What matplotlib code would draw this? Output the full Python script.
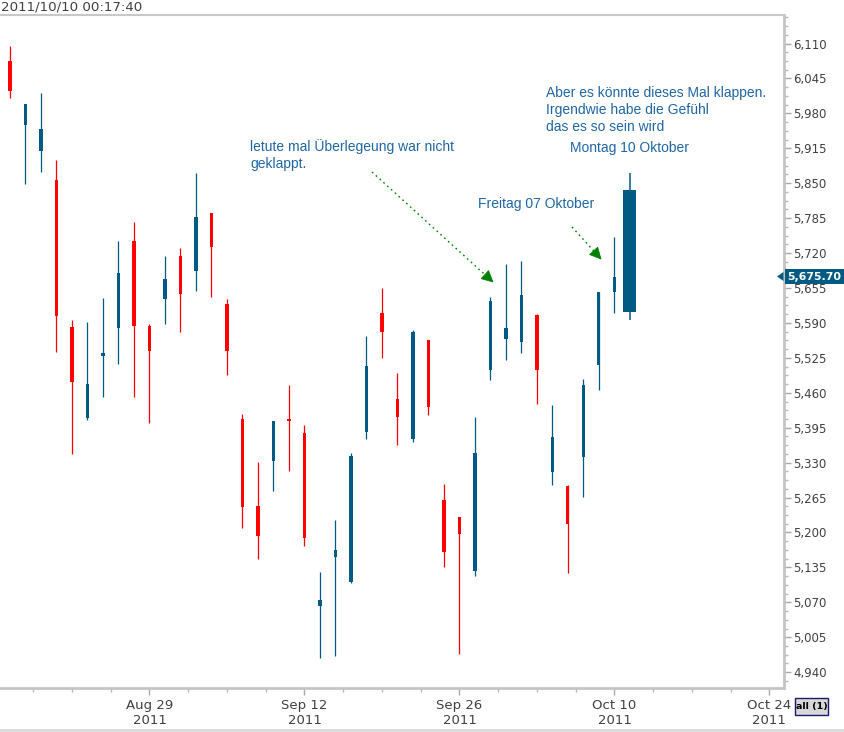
import math
import matplotlib
matplotlib.use('Agg')
import matplotlib.pyplot as plt
from matplotlib.ticker import MultipleLocator, FixedLocator, FuncFormatter
from matplotlib.patches import Rectangle, Polygon
from matplotlib.lines import Line2D

# ---------------- data ----------------
dates = ['2011-08-16', '2011-08-17', '2011-08-18', '2011-08-19', '2011-08-22', '2011-08-23',
         '2011-08-24', '2011-08-25', '2011-08-26', '2011-08-29', '2011-08-30', '2011-08-31',
         '2011-09-01', '2011-09-02', '2011-09-05', '2011-09-06', '2011-09-07', '2011-09-08',
         '2011-09-09', '2011-09-12', '2011-09-13', '2011-09-14', '2011-09-15', '2011-09-16',
         '2011-09-19', '2011-09-20', '2011-09-21', '2011-09-22', '2011-09-23', '2011-09-26',
         '2011-09-27', '2011-09-28', '2011-09-29', '2011-09-30', '2011-10-03', '2011-10-04',
         '2011-10-05', '2011-10-06', '2011-10-07', '2011-10-10', '2011-10-11']
opens = [6077, 5958, 5910, 5856, 5582, 5413, 5529, 5581, 5743, 5584, 5635, 5714, 5687, 5795,
         5625, 5411, 5249, 5333, 5411, 5385, 5063, 5155, 5107, 5387, 5608, 5448, 5374, 5558,
         5260, 5228, 5128, 5503, 5560, 5555, 5604, 5313, 5286, 5341, 5512, 5648, 5611]
highs = [6105, 5997, 6018, 5893, 5595, 5592, 5636, 5743, 5778, 5588, 5714, 5730, 5869, 5795,
         5634, 5420, 5331, 5407, 5474, 5400, 5126, 5223, 5348, 5565, 5655, 5497, 5577, 5558,
         5290, 5228, 5415, 5638, 5700, 5705, 5606, 5437, 5288, 5485, 5647, 5750, 5869]
lows = [6008, 5849, 5871, 5536, 5346, 5410, 5452, 5514, 5452, 5404, 5588, 5573, 5650, 5639,
        5493, 5209, 5151, 5277, 5315, 5175, 4966, 4970, 5106, 5374, 5525, 5363, 5369, 5419,
        5136, 4974, 5119, 5484, 5521, 5534, 5439, 5289, 5125, 5266, 5465, 5608, 5596]
closes = [6022, 5997, 5951, 5603, 5480, 5476, 5534, 5683, 5585, 5538, 5672, 5644, 5787, 5732,
          5538, 5247, 5194, 5407, 5407, 5190, 5074, 5167, 5342, 5510, 5573, 5415, 5573, 5434,
          5164, 5197, 5348, 5631, 5580, 5642, 5503, 5377, 5216, 5474, 5647, 5675.7, 5837]
last_price = 5675.70

tick_idx = [9, 19, 29, 39, 49]
tick_labels = ['Aug 29\n2011', 'Sep 12\n2011', 'Sep 26\n2011', 'Oct 10\n2011', 'Oct 24\n2011']
timestamp = '2011/10/10 00:17:40'

note1 = ['letute mal Überlegeung war nicht', 'geklappt.']
note2 = 'Freitag 07 Oktober'
note3 = ['Aber es könnte dieses Mal klappen.', 'Irgendwie habe die Gefühl', 'das es so sein wird']
note4 = 'Montag 10 Oktober'

UP = '#005a82'
DOWN = '#ff0000'
TXT = '#1f66a3'
GREEN = '#008000'

W, H = 844, 732
fig = plt.figure(figsize=(W / 100, H / 100), dpi=100)
fig.patch.set_facecolor('white')

def fx(px):
    return px / W

def fy(py):
    return 1 - py / H

ax = fig.add_axes([0, fy(688), fx(784), fy(14.5) - fy(688)])
ax.set_facecolor('white')

n = len(opens)
for i in range(n):
    o, h, l, c = opens[i], highs[i], lows[i], closes[i]
    col = UP if c >= o else DOWN
    last = (i == n - 1)
    bw = 0.84 if last else 0.2
    ax.vlines(i, l, h, color=col, lw=1.1 if last else 0.9, zorder=2)
    bot = min(o, c)
    ht = max(abs(c - o), 3.5)
    ax.bar(i, ht, bottom=bot, width=bw, color=col, edgecolor='none', zorder=3)

ax.set_xlim(-0.645, 49.94)
ax.set_ylim(4910.6, 6164)

# y axis on right
ax.yaxis.tick_right()
ax.yaxis.set_major_locator(MultipleLocator(65))
ax.yaxis.set_minor_locator(MultipleLocator(16.25))
ax.yaxis.set_major_formatter(FuncFormatter(lambda v, p: f'{v:,.0f}'))
ax.tick_params(axis='y', which='major', length=5, width=1, color='#a8a8a8',
               labelsize=8.5, labelcolor='#404040', pad=1.5)
ax.tick_params(axis='y', which='minor', length=3, width=1, color='#b8b8b8')

# x axis
ax.xaxis.set_major_locator(FixedLocator(tick_idx))
ax.set_xticklabels(tick_labels)
ax.xaxis.set_minor_locator(FixedLocator([1.5 + 2.5 * k for k in range(20)]))
ax.tick_params(axis='x', which='major', length=5, width=1, color='#a8a8a8',
               labelsize=9.5, labelcolor='#404040', pad=3)
ax.tick_params(axis='x', which='minor', length=3, width=1, color='#b8b8b8')

ax.spines['left'].set_visible(False)
ax.spines['right'].set_color('#c4c4c4')
ax.spines['right'].set_linewidth(2)
ax.spines['bottom'].set_color('#c4c4c4')
ax.spines['bottom'].set_linewidth(2)
ax.spines['top'].set_color('#c8c8c8')
ax.spines['top'].set_linewidth(1.5)

# timestamp
fig.text(fx(1), fy(6.5), timestamp, fontsize=9.6, color='#404040', va='center', ha='left')

# annotations
tfont = dict(family=['Liberation Sans', 'DejaVu Sans'], fontsize=10, color=TXT, va='center', ha='left')
fig.text(fx(250), fy(147), note1[0], **tfont)
fig.text(fx(250), fy(164), note1[1], **tfont)
fig.text(fx(478), fy(204), note2, **tfont)
for k, line in enumerate(note3):
    fig.text(fx(546), fy(93 + 16.8 * k), line, **tfont)
fig.text(fx(570), fy(148), note4, **tfont)

def arrow(x0, y0, x1, y1):
    fig.add_artist(Line2D([fx(x0), fx(x1)], [fy(y0), fy(y1)], color=GREEN, lw=1,
                          linestyle=(0, (1.2, 2.5))))
    dx, dy = x1 - x0, y1 - y0
    L = math.hypot(dx, dy)
    ux, uy = dx / L, dy / L
    hl, hw = 11, 5.5
    bx, by = x1 - ux * hl, y1 - uy * hl
    px, py = -uy, ux
    pts = [(fx(x1), fy(y1)), (fx(bx + px * hw), fy(by + py * hw)), (fx(bx - px * hw), fy(by - py * hw))]
    fig.add_artist(Polygon(pts, closed=True, facecolor=GREEN, edgecolor=GREEN, lw=0.5))

arrow(372, 172, 493, 282)
arrow(572, 227, 601, 259)

# last price label
ly = 276.5
fig.add_artist(Rectangle((fx(785), fy(283.5)), fx(844) - fx(785), fy(269.5) - fy(283.5),
                         facecolor=UP, edgecolor='none'))
fig.add_artist(Polygon([(fx(777), fy(ly)), (fx(783.5), fy(ly - 4.5)), (fx(783.5), fy(ly + 4.5))],
                       closed=True, facecolor=UP, edgecolor='none'))
fig.text(fx(787), fy(ly), f'{last_price:,.2f}', fontsize=7.9, fontweight='bold', color='white',
         va='center', ha='left')

# "all (1)" button
fig.add_artist(Rectangle((fx(795), fy(715)), fx(828) - fx(795), fy(698) - fy(715),
                         facecolor='#d8d8d8', edgecolor='#1a1a6a', lw=1))
fig.text(fx(811.5), fy(706.5), 'all (1)', fontsize=6.8, fontweight='bold', color='black',
         va='center', ha='center')

# bottom strip
fig.add_artist(Rectangle((0, 0), 1, 3 / H, facecolor='#dcdcdc', edgecolor='none'))

fig.savefig('out.png', dpi=100, facecolor='white')
